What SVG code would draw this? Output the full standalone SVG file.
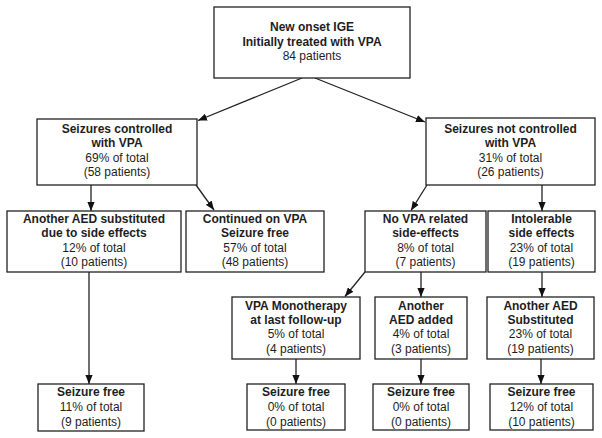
<svg xmlns="http://www.w3.org/2000/svg" width="602" height="438" viewBox="0 0 602 438">
<style>
.box{fill:#fff;stroke:#222;stroke-width:1.3}
text{font-family:"Liberation Sans",Arial,sans-serif;font-size:12px;fill:#1e1e1e;text-anchor:middle}
.b{font-weight:bold}
.con line{stroke:#222;stroke-width:1.3;marker-end:url(#ah)}
</style>
<defs>
<marker id="ah" viewBox="0 0 10 8" refX="10" refY="4" markerWidth="9" markerHeight="7.5" markerUnits="userSpaceOnUse" orient="auto">
<path d="M0,0 L10,4 L0,8 z" fill="#111"/>
</marker>
</defs>
<rect width="602" height="438" fill="#fff"/>
<g id="connectors" class="con">
<line x1="302" y1="78" x2="198" y2="120.5"/>
<line x1="315" y1="78" x2="425" y2="122"/>
<line x1="91" y1="185" x2="91" y2="211"/>
<line x1="196" y1="185" x2="214" y2="210"/>
<line x1="427" y1="185" x2="411" y2="210.5"/>
<line x1="542" y1="185" x2="542" y2="211"/>
<line x1="89" y1="272" x2="89" y2="384"/>
<line x1="365" y1="272" x2="345" y2="296.5"/>
<line x1="421" y1="272" x2="421" y2="297"/>
<line x1="542" y1="272" x2="542" y2="297"/>
<line x1="296" y1="359" x2="296" y2="384"/>
<line x1="421" y1="359" x2="421" y2="384"/>
<line x1="541" y1="359" x2="541" y2="384"/>
</g>
<g id="n-start">
<rect class="box" x="214" y="7" width="196" height="71"/>
<text x="312" y="31" class="b">New onset IGE</text>
<text x="312" y="45.5" class="b">Initially treated with VPA</text>
<text x="312" y="60">84 patients</text>
</g>
<g id="n-controlled">
<rect class="box" x="37" y="119" width="160" height="66"/>
<text x="117" y="132.5" class="b">Seizures controlled</text>
<text x="117" y="147" class="b">with VPA</text>
<text x="117" y="161.5">69% of total</text>
<text x="117" y="176">(58 patients)</text>
</g>
<g id="n-notcontrolled">
<rect class="box" x="426" y="118" width="169" height="67"/>
<text x="510.5" y="132.5" class="b">Seizures not controlled</text>
<text x="510.5" y="147" class="b">with VPA</text>
<text x="510.5" y="161.5">31% of total</text>
<text x="510.5" y="176">(26 patients)</text>
</g>
<g id="n-aedsub">
<rect class="box" x="7" y="211" width="174" height="61"/>
<text x="94" y="222.5" class="b">Another AED substituted</text>
<text x="94" y="237" class="b">due to side effects</text>
<text x="94" y="251.5">12% of total</text>
<text x="94" y="266">(10 patients)</text>
</g>
<g id="n-continued">
<rect class="box" x="186" y="211" width="138" height="61"/>
<text x="255" y="222.5" class="b">Continued on VPA</text>
<text x="255" y="237" class="b">Seizure free</text>
<text x="255" y="251.5">57% of total</text>
<text x="255" y="266">(48 patients)</text>
</g>
<g id="n-novpa">
<rect class="box" x="365" y="211" width="121" height="61"/>
<text x="425.5" y="222.5" class="b">No VPA related</text>
<text x="425.5" y="237" class="b">side-effects</text>
<text x="425.5" y="251.5">8% of total</text>
<text x="425.5" y="266">(7 patients)</text>
</g>
<g id="n-intolerable">
<rect class="box" x="488" y="211" width="107" height="61"/>
<text x="541.5" y="222.5" class="b">Intolerable</text>
<text x="541.5" y="237" class="b">side effects</text>
<text x="541.5" y="251.5">23% of total</text>
<text x="541.5" y="266">(19 patients)</text>
</g>
<g id="n-mono">
<rect class="box" x="232" y="297" width="128" height="62"/>
<text x="296" y="309.5" class="b">VPA Monotherapy</text>
<text x="296" y="323.8" class="b">at last follow-up</text>
<text x="296" y="338">5% of total</text>
<text x="296" y="352.5">(4 patients)</text>
</g>
<g id="n-added">
<rect class="box" x="375" y="297" width="92" height="62"/>
<text x="421" y="309.5" class="b">Another</text>
<text x="421" y="323.8" class="b">AED added</text>
<text x="421" y="338">4% of total</text>
<text x="421" y="352.5">(3 patients)</text>
</g>
<g id="n-substituted">
<rect class="box" x="487" y="297" width="107" height="62"/>
<text x="540.5" y="309.5" class="b">Another AED</text>
<text x="540.5" y="323.8" class="b">Substituted</text>
<text x="540.5" y="338">23% of total</text>
<text x="540.5" y="352.5">(19 patients)</text>
</g>
<g id="n-free1">
<rect class="box" x="38" y="384" width="106" height="47"/>
<text x="91" y="396" class="b">Seizure free</text>
<text x="91" y="411">11% of total</text>
<text x="91" y="425.5">(9 patients)</text>
</g>
<g id="n-free2">
<rect class="box" x="247" y="384" width="98" height="46"/>
<text x="296" y="396" class="b">Seizure free</text>
<text x="296" y="411">0% of total</text>
<text x="296" y="425.5">(0 patients)</text>
</g>
<g id="n-free3">
<rect class="box" x="373" y="384" width="96" height="46"/>
<text x="421" y="396" class="b">Seizure free</text>
<text x="421" y="411">0% of total</text>
<text x="421" y="425.5">(0 patients)</text>
</g>
<g id="n-free4">
<rect class="box" x="490" y="384" width="103" height="46"/>
<text x="541.5" y="396" class="b">Seizure free</text>
<text x="541.5" y="411">12% of total</text>
<text x="541.5" y="425.5">(10 patients)</text>
</g>
</svg>
